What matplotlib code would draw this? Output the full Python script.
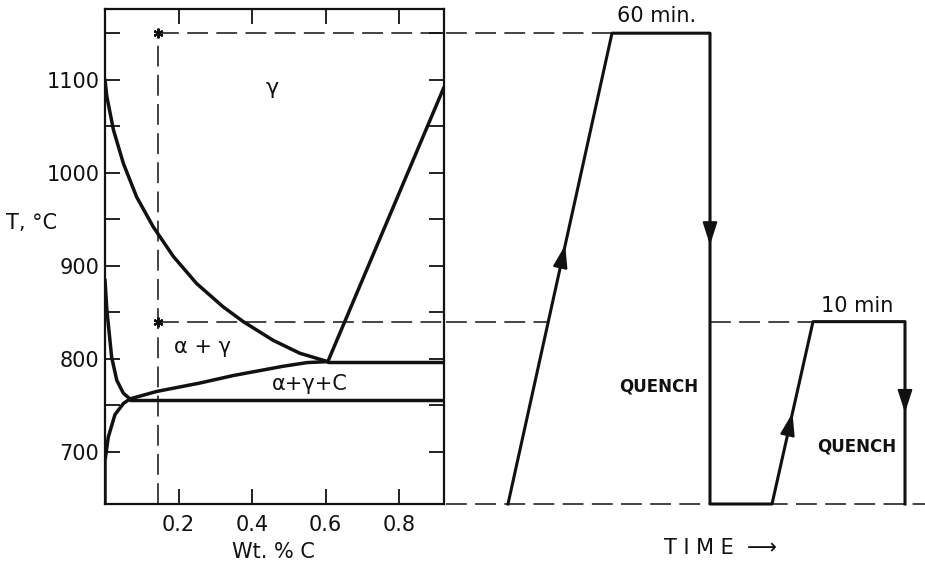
"""
Fe-C phase diagram corner with the two-step heat treatment schedule.
"""
import numpy as np
import matplotlib
matplotlib.use("Agg")
import matplotlib.pyplot as plt

plt.rcParams["font.family"] = "DejaVu Sans"
plt.rcParams["lines.scale_dashes"] = False

INK = "#111111"
DASH = (0, (15, 6))

# --- phase diagram boundaries (wt.% C, deg C) ---
a3_c = [0.0, 0.005, 0.023, 0.050, 0.086, 0.131, 0.186, 0.249, 0.321, 0.376, 0.457, 0.530, 0.606]
a3_t = [1100, 1082, 1046, 1010, 974, 942, 910, 881, 856, 840, 820, 806, 797]

acm_c = [0.606, 0.922]
acm_t = [797, 1092]

upper_c = [0.606, 0.922]
upper_t = [797, 797]

mid_c = [0.068, 0.141, 0.258, 0.348, 0.484, 0.550, 0.606]
mid_t = [757, 765, 774, 782, 792, 796, 797]

lower_c = [0.068, 0.922]
lower_t = [756, 756]

alpha_c = [0.0, 0.005, 0.018, 0.032, 0.050, 0.068]
alpha_t = [885, 853, 802, 777, 763, 757]

solvus_c = [0.0, 0.0, 0.009, 0.027, 0.050, 0.068]
solvus_t = [644, 691, 716, 740, 752, 757]

alloy_c = 0.145
t_austenitize = 1150
t_intercrit = 840
t_base = 644

# --- heat treatment schedule (arbitrary time units, deg C) ---
sched_time = [6.2, 16.6, 26.4, 26.4, 32.6, 36.7, 45.9, 45.9]
sched_temp = [t_base, 1150, 1150, t_base, t_base, 840, 840, t_base]

Y_LIM = (644, 1176)

fig = plt.figure(figsize=(9.25, 5.66), dpi=100)
W, H = 925, 566
ax = fig.add_axes([105 / W, (H - 504) / H, 339 / W, 495 / H])
ax2 = fig.add_axes([446 / W, (H - 504) / H, 479 / W, 495 / H])

# ---------------- left: phase diagram ----------------
for xs, ys in [(a3_c, a3_t), (acm_c, acm_t), (upper_c, upper_t), (mid_c, mid_t),
               (lower_c, lower_t), (alpha_c, alpha_t), (solvus_c, solvus_t)]:
    ax.plot(xs, ys, color=INK, lw=2.5, solid_capstyle="round", solid_joinstyle="round")

ax.plot([alloy_c, alloy_c], [Y_LIM[0], t_austenitize], color=INK, lw=1.1, linestyle=DASH)
ax.plot([alloy_c, 0.922], [t_austenitize, t_austenitize], color=INK, lw=1.1, linestyle=DASH)
ax.plot([alloy_c, 0.922], [t_intercrit, t_intercrit], color=INK, lw=1.1, linestyle=DASH)
ax.plot([alloy_c, alloy_c], [t_austenitize, t_intercrit], linestyle="none",
        marker=(6, 2, 0), ms=7, mew=1.6, color=INK)

ax.text(0.454, 1091, "γ", fontsize=16, ha="center", va="center", color=INK)
ax.text(0.266, 813, "α + γ", fontsize=15, ha="center", va="center", color=INK)
ax.text(0.557, 773, "α+γ+C", fontsize=15, ha="center", va="center", color=INK)

ax.set_xlim(0, 0.922)
ax.set_ylim(*Y_LIM)
ax.set_xticks([0.2, 0.4, 0.6, 0.8])
ax.set_xticklabels(["0.2", "0.4", "0.6", "0.8"], fontsize=15)
ax.set_yticks([700, 800, 900, 1000, 1100])
ax.set_yticks([750, 850, 950, 1050, 1150], minor=True)
ax.set_yticklabels(["700", "800", "900", "1000", "1100"], fontsize=15)
ax.tick_params(which="both", direction="in", length=11, width=1.3,
               top=True, right=True, colors=INK)
ax.tick_params(axis="y", pad=4)
ax.tick_params(axis="x", pad=8)
for sp in ax.spines.values():
    sp.set_linewidth(1.6)
    sp.set_color(INK)

fig.text(32 / W, 1 - 223 / H, "T, °C", fontsize=15, ha="center", va="center", color=INK)
fig.text(273 / W, 1 - 552 / H, "Wt. % C", fontsize=15, ha="center", va="center", color=INK)

# ---------------- right: time-temperature schedule ----------------
ax2.set_xlim(0, 47.9)
ax2.set_ylim(*Y_LIM)
ax2.axis("off")

ramp_hit = np.interp(t_intercrit, sched_temp[0:2], sched_time[0:2])
ax2.plot([0, sched_time[1]], [t_austenitize] * 2, color=INK, lw=1.1, linestyle=DASH)
ax2.plot([0, ramp_hit], [t_intercrit] * 2, color=INK, lw=1.1, linestyle=DASH)
ax2.plot([sched_time[2], sched_time[5]], [t_intercrit] * 2, color=INK, lw=1.1, linestyle=DASH)
ax2.plot([0, 47.9], [t_base + 0.5] * 2, color=INK, lw=1.1, linestyle=DASH, clip_on=False)

ax2.plot(sched_time, sched_temp, color=INK, lw=2.2, solid_joinstyle="round", clip_on=False)

# direction arrows along each leg
for i, frac in [(0, 0.55), (2, 0.45), (4, 0.5), (6, 0.5)]:
    x0, x1 = sched_time[i], sched_time[i + 1]
    y0, y1 = sched_temp[i], sched_temp[i + 1]
    xm, ym = x0 + frac * (x1 - x0), y0 + frac * (y1 - y0)
    xs, ys = x0 + (frac - 0.05) * (x1 - x0), y0 + (frac - 0.05) * (y1 - y0)
    ax2.annotate("", xy=(xm, ym), xytext=(xs, ys),
                 arrowprops=dict(arrowstyle="-|>,head_length=1.4,head_width=0.45",
                                 color=INK, lw=1.5, shrinkA=0, shrinkB=0))

ax2.text(21.1, 1169, "60 min.", fontsize=15, ha="center", va="center", color=INK)
ax2.text(41.1, 857, "10 min", fontsize=15, ha="center", va="center", color=INK)
ax2.text(25.2, 770, "QUENCH", fontsize=12, fontweight="bold", ha="right", va="center", color=INK)
ax2.text(41.1, 706, "QUENCH", fontsize=12, fontweight="bold", ha="center", va="center", color=INK)
ax2.text(27.4, 597, "T I M E  ⟶", fontsize=15, ha="center", va="center", color=INK)

fig.savefig("out.png", dpi=100)
